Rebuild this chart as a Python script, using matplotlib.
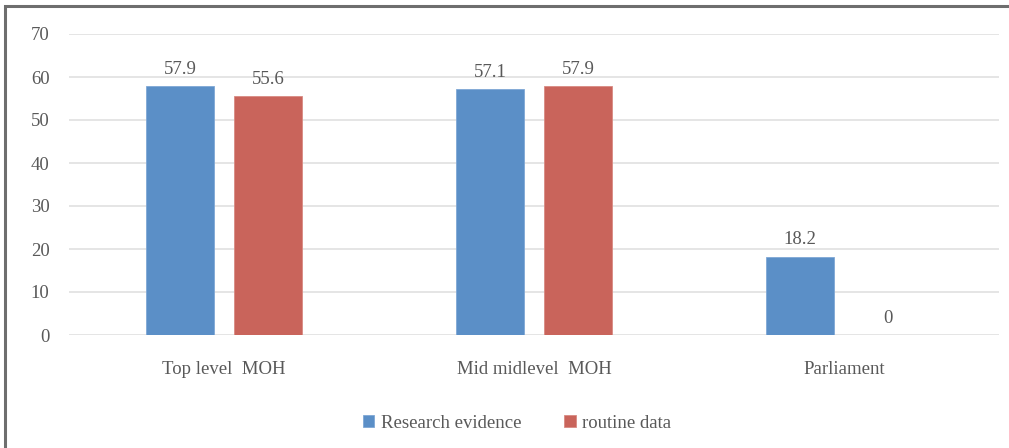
import matplotlib
matplotlib.use("Agg")
import matplotlib.pyplot as plt
import numpy as np
from matplotlib.patches import Rectangle

categories = ["Top level  MOH", "Mid midlevel  MOH", "Parliament"]
research = [57.9, 57.1, 18.2]
routine = [55.6, 57.9, 0]
series_names = ["Research evidence", "routine data"]
yticks = [0, 10, 20, 30, 40, 50, 60, 70]

blue = "#5B8FC7"
red = "#C9645B"
txt = "#595959"
fs = 13.5
plt.rcParams['font.family'] = ['Liberation Serif', 'DejaVu Serif']

fig = plt.figure(figsize=(10.09, 4.48), dpi=100)
ax = fig.add_axes([69/1009, 1-335/448, 930/1009, 301/448])
x = np.arange(len(categories))
w = 0.22
off = 0.142
b1 = ax.bar(x - off, research, w, color=blue, edgecolor="#7FA8D6", linewidth=0.6, label=series_names[0], zorder=3)
b2 = ax.bar(x + off, routine, w, color=red, edgecolor="#D98A83", linewidth=0.6, label=series_names[1], zorder=3)
for rects, vals in ((b1, research), (b2, routine)):
    for r, v in zip(rects, vals):
        ax.annotate(f"{v:g}", (r.get_x() + r.get_width()/2, v), xytext=(0, 6),
                    textcoords="offset points", ha="center", va="bottom",
                    fontsize=fs, color=txt)
ax.set_xlim(-0.5, 2.5)
ax.set_ylim(0, 70)
ax.set_yticks(yticks)
ax.set_yticklabels([str(t) for t in yticks], fontsize=fs, color=txt)
ax.set_xticks(x)
ax.set_xticklabels(categories, fontsize=fs, color=txt)
ax.tick_params(axis="both", length=0)
ax.tick_params(axis="y", pad=14)
ax.tick_params(axis="x", pad=19)
ax.grid(axis="y", color="#E0E0E0", linewidth=1.2, zorder=0)
for s in ax.spines.values():
    s.set_visible(False)
leg = fig.legend(loc="center", bbox_to_anchor=(517/1009, 1-423/448), ncol=2, frameon=False,
                 fontsize=fs, handlelength=0.6, handleheight=0.6, handletextpad=0.35,
                 columnspacing=2.3)
for t in leg.get_texts():
    t.set_color(txt)
# outer frame
fig.add_artist(Rectangle((5/1009, -0.1), 1.2, (448-6)/448 + 0.1, transform=fig.transFigure,
                         fill=False, edgecolor="#6E6E6E", linewidth=2.2))
fig.savefig("out.png", dpi=100)
